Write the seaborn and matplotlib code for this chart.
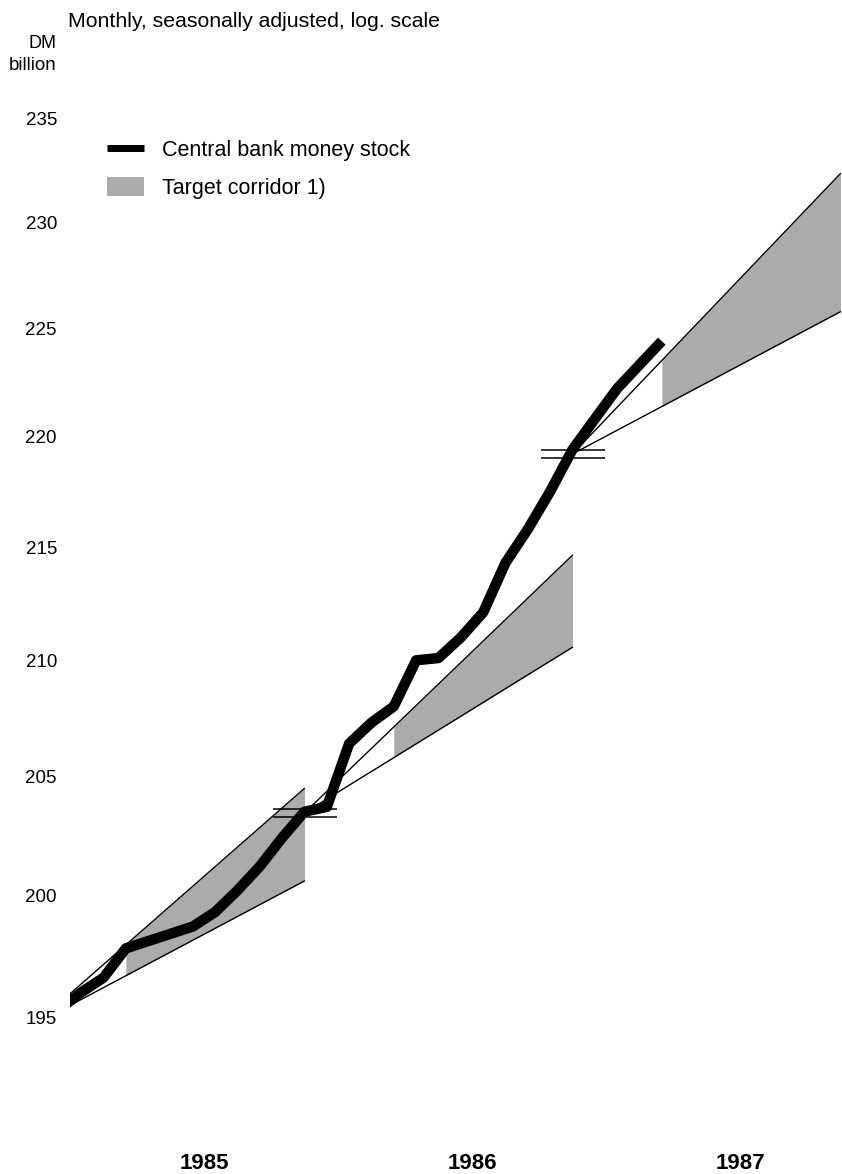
import numpy as np
import pandas as pd
import matplotlib
import matplotlib.pyplot as plt
from matplotlib.path import Path
from matplotlib.patches import Patch
from matplotlib.lines import Line2D
from matplotlib.ticker import NullLocator, NullFormatter
import seaborn as sns

sns.set_style("white")
plt.rcParams["font.family"] = ["Liberation Sans", "DejaVu Sans"]
plt.rcParams["text.color"] = "black"
plt.rcParams["xtick.color"] = "black"
plt.rcParams["ytick.color"] = "black"

# central bank money stock, DM billion, monthly, seasonally adjusted
months = ["1984-12",
          "1985-01", "1985-02", "1985-03", "1985-04", "1985-05", "1985-06",
          "1985-07", "1985-08", "1985-09", "1985-10", "1985-11", "1985-12",
          "1986-01", "1986-02", "1986-03", "1986-04", "1986-05", "1986-06",
          "1986-07", "1986-08", "1986-09", "1986-10", "1986-11", "1986-12",
          "1987-01", "1987-02", "1987-03"]
money_stock = [195.3,
               196.0, 196.6, 197.8, 198.1, 198.4, 198.7,
               199.3, 200.2, 201.2, 202.4, 203.5, 203.7,
               206.4, 207.3, 208.0, 210.0, 210.1, 211.0,
               212.1, 214.3, 215.8, 217.5, 219.4, 220.8,
               222.2, 223.3, 224.4]

# target corridors: Q4 base of previous year -> Q4 of target year
target_years = [1985, 1986, 1987]
corridor_base = [194.75, 203.45, 219.2]
growth_low = [3.0, 3.5, 3.0]
growth_high = [5.0, 5.5, 6.0]

year_labels = ["1985", "1986", "1987"]
y_ticks = [195, 200, 205, 210, 215, 220, 225, 230, 235]

GRAY = "#ababab"

# months since start of 1985, plotted at mid-month
per = pd.PeriodIndex(months, freq="M")
t = (per.year - 1985) * 12 + (per.month - 1) + 0.5
df = pd.DataFrame({"t": t, "stock": money_stock})

fig = plt.figure(figsize=(8.42, 11.74), dpi=100)
W, H = 842, 1174
top_px, bot_px, left_px = 40, 1120, 70
ax = fig.add_axes([left_px / W, (H - bot_px) / H, (W - left_px) / W, (bot_px - top_px) / H])

# corridors
for yr, base, gl, gh in zip(target_years, corridor_base, growth_low, growth_high):
    t0 = (yr - 1985) * 12 - 1.5   # mid-November of the previous year
    t1 = t0 + 12
    ts = t0 + 4                   # shading begins in March
    lo = lambda tt: base * (1 + gl / 100) ** ((tt - t0) / 12)
    hi = lambda tt: base * (1 + gh / 100) ** ((tt - t0) / 12)
    ax.fill_between([ts, t1], [lo(ts), lo(t1)], [hi(ts), hi(t1)],
                    color=GRAY, lw=0, zorder=1)
    ax.plot([t0, t1], [base, lo(t1)], color="black", lw=1.0, zorder=2)
    ax.plot([t0, t1], [base, hi(t1)], color="black", lw=1.0, zorder=2)

sns.lineplot(data=df, x="t", y="stock", color="black", linewidth=7.5,
             solid_capstyle="butt", solid_joinstyle="round", ax=ax, zorder=3)

# double bar marking the base level
bar = Path([(-1, 0.11), (1, 0.11), (-1, -0.11), (1, -0.11)],
           [Path.MOVETO, Path.LINETO, Path.MOVETO, Path.LINETO])
base_t = [(yr - 1985) * 12 - 1.5 for yr in target_years]
ax.plot(base_t, corridor_base, ls="none", marker=bar, markersize=46,
        markeredgewidth=1.1, markeredgecolor="black", markerfacecolor="none", zorder=4)

k = 4813.0
ax.set_yscale("log")
ax.set_ylim(195 * np.exp((1017 - bot_px) / k), 195 * np.exp((1017 - top_px) / k))
ax.set_xlim(0, (W - left_px) / (268 / 12))

ax.set_yticks(y_ticks)
ax.set_yticklabels([str(v) for v in y_ticks], fontsize=13.5)
ax.yaxis.set_minor_locator(NullLocator())
ax.yaxis.set_minor_formatter(NullFormatter())
ax.set_xticks([6, 18, 30])
ax.set_xticklabels(year_labels, fontsize=16, fontweight="bold")
ax.tick_params(axis="y", length=0, pad=9.4)
ax.tick_params(axis="x", length=0, pad=24)
ax.set_xlabel("")
ax.set_ylabel("")
for s in ax.spines.values():
    s.set_visible(False)

fig.text(68 / W, 1 - 27 / H, "Monthly, seasonally adjusted, log. scale",
         fontsize=15.3, va="baseline", ha="left")
fig.text(57 / W, 1 - 48 / H, "DM", fontsize=13, va="baseline", ha="right")
fig.text(57 / W, 1 - 70 / H, "billion", fontsize=13.5, va="baseline", ha="right")

handles = [Line2D([], [], color="black", lw=5, solid_capstyle="butt"),
           Patch(facecolor=GRAY, edgecolor="none")]
ax.legend(handles, ["Central bank money stock", "Target corridor 1)"],
          loc="upper left", bbox_to_anchor=(107 / W, 1 - 139 / H),
          bbox_transform=fig.transFigure, frameon=False, fontsize=15.5,
          borderaxespad=0, borderpad=0, handlelength=1.7, handleheight=1.0,
          handletextpad=0.85, labelspacing=0.75)

fig.savefig("out.png", dpi=100)
